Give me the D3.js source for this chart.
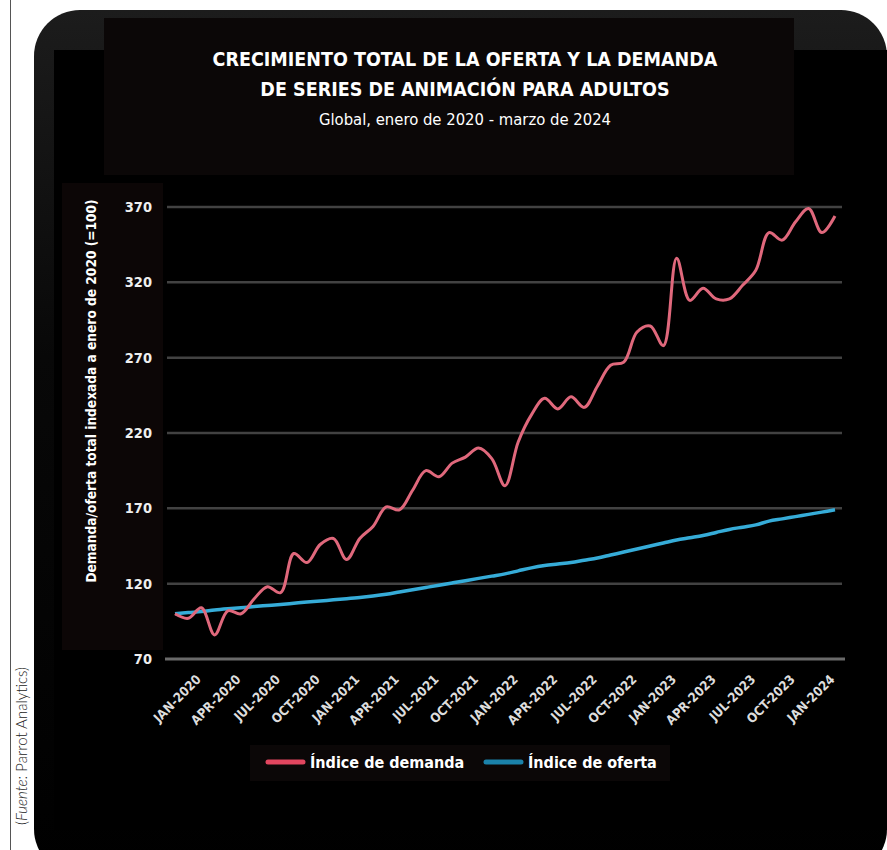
<!DOCTYPE html>
<html>
<head>
<meta charset="utf-8">
<script src="https://cdn.jsdelivr.net/npm/d3@7"></script>
<style>
	body { margin: 0; background: #ffffff; }
	svg { display: block; }
</style>
</head>
<body>
<script>
"use strict";

// Monthly index values, Jan 2020 to Mar 2024 (Jan 2020 = 100)
var demandValues = [
	100, 97, 104, 86, 102, 100, 110, 118, 114, 140, 134, 146,
	150, 136, 150, 158, 171, 169, 182, 195, 191, 200, 204, 210,
	203, 185, 214, 232, 243, 236, 244, 237, 251, 265, 267, 287,
	291, 278, 336, 308, 316, 309, 309, 318, 328, 353, 348, 360,
	369, 353, 364
];

var supplyValues = [
	100, 100.8, 101.5, 102.5, 103.3, 104, 104.8, 105.5, 106.2, 107, 107.8, 108.5,
	109.3, 110, 110.8, 111.8, 113, 114.5, 116, 117.5, 119, 120.5, 122, 123.5,
	125, 126.5, 128.5, 130.5, 132, 133, 134, 135.5, 137, 139, 141, 143,
	145, 147, 149, 150.5, 152, 154, 156, 157.5, 159, 161.5, 163, 164.5,
	166, 167.5, 169
];

var xTickLabels = [
	"JAN-2020", "APR-2020", "JUL-2020", "OCT-2020",
	"JAN-2021", "APR-2021", "JUL-2021", "OCT-2021",
	"JAN-2022", "APR-2022", "JUL-2022", "OCT-2022",
	"JAN-2023", "APR-2023", "JUL-2023", "OCT-2023",
	"JAN-2024"
];

var yTicks = [70, 120, 170, 220, 270, 320, 370];

var titleLines = [
	"CRECIMIENTO TOTAL DE LA OFERTA Y LA DEMANDA",
	"DE SERIES DE ANIMACIÓN PARA ADULTOS"
];
var subtitle = "Global, enero de 2020 - marzo de 2024";
var yTitle = "Demanda/oferta total indexada a enero de 2020 (=100)";
var legendItems = [
	{ name: "Índice de demanda", color: "#e2465f" },
	{ name: "Índice de oferta", color: "#1b82aa" }
];

var width = 887, height = 850;
var condensed = "'DejaVu Sans Condensed', 'Liberation Sans Narrow', sans-serif";

var svg = d3.select("body").append("svg")
	.attr("width", width)
	.attr("height", height);

// frame: thin rule at the left, dark rounded panel
svg.append("line")
	.attr("x1", 10.5).attr("x2", 10.5)
	.attr("y1", 0).attr("y2", height)
	.style("stroke", "#555").style("stroke-width", 1);

var grad = svg.append("defs").append("linearGradient")
	.attr("id", "panelGrad")
	.attr("x1", 0).attr("y1", 0).attr("x2", 0).attr("y2", 1);
grad.append("stop").attr("offset", "0%").attr("stop-color", "#1c1c1c");
grad.append("stop").attr("offset", "40%").attr("stop-color", "#080808");
grad.append("stop").attr("offset", "100%").attr("stop-color", "#000");

svg.append("rect")
	.attr("x", 34).attr("y", 10)
	.attr("width", 853).attr("height", 865)
	.attr("rx", 46).attr("ry", 46)
	.style("fill", "url(#panelGrad)");

svg.append("rect")
	.attr("x", 54).attr("y", 50)
	.attr("width", 833).attr("height", 780)
	.style("fill", "#000");

// faint boxes behind title, y title and legend
svg.append("rect")
	.attr("x", 104).attr("y", 18)
	.attr("width", 690).attr("height", 157)
	.style("fill", "#0b0707");

svg.append("rect")
	.attr("x", 62).attr("y", 183)
	.attr("width", 101).attr("height", 467)
	.style("fill", "#0c0606");

svg.append("rect")
	.attr("x", 250).attr("y", 745)
	.attr("width", 420).attr("height", 36)
	.style("fill", "#0b0707");

// titles
svg.selectAll(".titleLine")
	.data(titleLines)
	.enter().append("text")
	.attr("class", "titleLine")
	.attr("x", 465)
	.attr("y", (d, i) => 66 + i * 30)
	.attr("text-anchor", "middle")
	.style("font-family", condensed)
	.style("font-weight", "bold")
	.style("font-size", "19.5px")
	.style("fill", "#fff")
	.text(d => d);

svg.append("text")
	.attr("x", 465)
	.attr("y", 125)
	.attr("text-anchor", "middle")
	.style("font-family", condensed)
	.style("font-size", "16.5px")
	.style("fill", "#fff")
	.text(subtitle);

// scales
var x = d3.scaleLinear().domain([0, demandValues.length - 1]).range([175, 835]);
var y = d3.scaleLinear().domain([70, 370]).range([659, 207]);

// gridlines
svg.selectAll(".grid")
	.data(yTicks.filter(d => d > 70))
	.enter().append("line")
	.attr("class", "grid")
	.attr("x1", 167).attr("x2", 842)
	.attr("y1", d => y(d)).attr("y2", d => y(d))
	.style("stroke", "#424242")
	.style("stroke-width", 2.5);

svg.append("line")
	.attr("x1", 165).attr("x2", 845)
	.attr("y1", y(70)).attr("y2", y(70))
	.style("stroke", "#6a6a6a")
	.style("stroke-width", 3);

// y axis labels
var yAxis = svg.append("g")
	.attr("transform", "translate(152,0)")
	.call(d3.axisLeft(y).tickValues(yTicks).tickSize(0).tickPadding(0));
yAxis.select(".domain").remove();
yAxis.selectAll("text")
	.style("font-family", condensed)
	.style("font-weight", "bold")
	.style("font-size", "14.5px")
	.style("fill", "#eee");

svg.append("text")
	.attr("transform", "translate(96,391) rotate(-90)")
	.attr("text-anchor", "middle")
	.style("font-family", condensed)
	.style("font-weight", "bold")
	.style("font-size", "13.6px")
	.style("fill", "#fff")
	.text(yTitle);

// x axis labels, one every 3 months
var xAxis = svg.append("g")
	.attr("transform", "translate(0," + (y(70) + 4) + ")")
	.call(d3.axisBottom(x)
		.tickValues(xTickLabels.map((d, i) => i * 3))
		.tickFormat((d, i) => xTickLabels[i])
		.tickSize(0));
xAxis.select(".domain").remove();
xAxis.selectAll("text")
	.attr("text-anchor", "end")
	.attr("dy", "0.35em")
	.attr("transform", "translate(21,12) rotate(-45)")
	.style("font-family", condensed)
	.style("font-weight", "bold")
	.style("font-size", "13px")
	.style("fill", "#ddd");

// series lines
var line = d3.line()
	.x((d, i) => x(i))
	.y(d => y(d))
	.curve(d3.curveCatmullRom.alpha(0.5));

svg.append("path")
	.datum(supplyValues)
	.attr("d", line)
	.style("fill", "none")
	.style("stroke", "#36acd8")
	.style("stroke-width", 3.5)
	.style("stroke-linejoin", "round");

svg.append("path")
	.datum(demandValues)
	.attr("d", line)
	.style("fill", "none")
	.style("stroke", "#e0687c")
	.style("stroke-width", 3)
	.style("stroke-linejoin", "round");

// legend
var legend = svg.selectAll(".legendItem")
	.data(legendItems)
	.enter().append("g")
	.attr("class", "legendItem")
	.attr("transform", (d, i) => "translate(" + (268 + i * 218) + ",762)");

legend.append("line")
	.attr("x1", 0).attr("x2", 35)
	.style("stroke", d => d.color)
	.style("stroke-width", 5)
	.style("stroke-linecap", "round");

legend.append("text")
	.attr("x", 42)
	.attr("dy", "0.35em")
	.style("font-family", condensed)
	.style("font-weight", "bold")
	.style("font-size", "16px")
	.style("fill", "#fff")
	.text(d => d.name);

// source note
var src = svg.append("text")
	.attr("transform", "translate(27,746) rotate(-90)")
	.attr("text-anchor", "middle")
	.style("font-family", "Lato, 'Open Sans', sans-serif")
	.style("font-weight", 300)
	.style("font-size", "15px")
	.style("fill", "#222");
src.append("tspan").text("(");
src.append("tspan").style("font-style", "italic").text("Fuente");
src.append("tspan").text(": Parrot Analytics)");
</script>
</body>
</html>
